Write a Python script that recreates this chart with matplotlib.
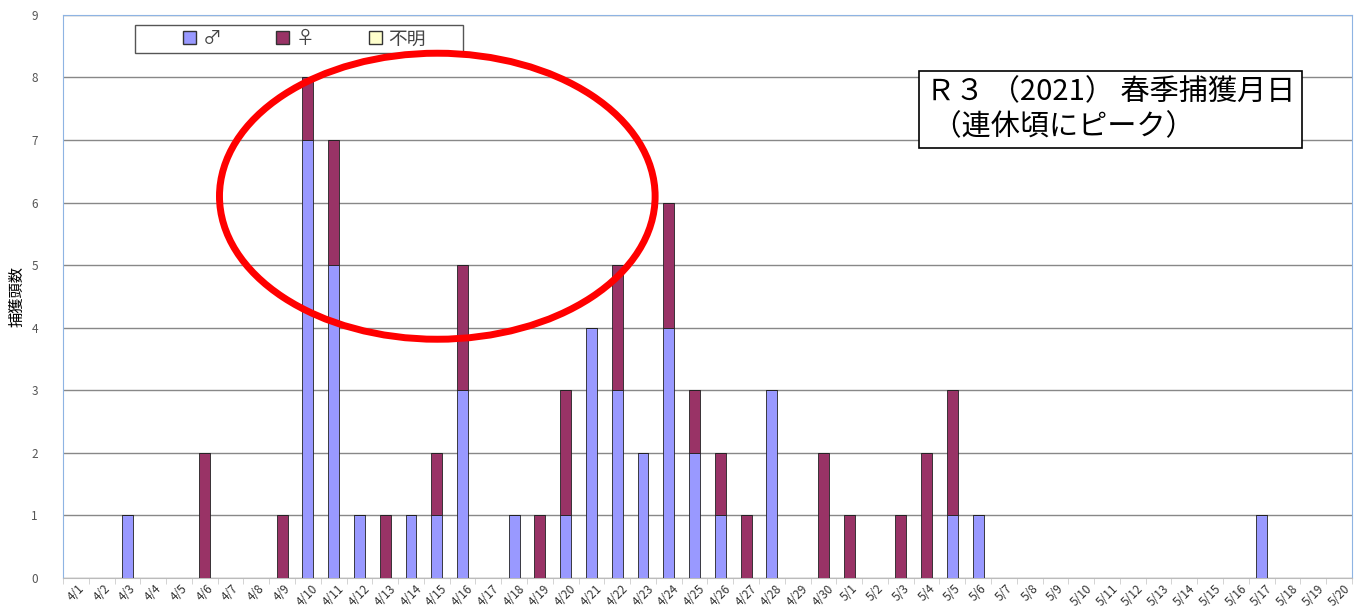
import matplotlib
matplotlib.use("Agg")
import matplotlib.pyplot as plt
from matplotlib.patches import Ellipse, Patch, Rectangle
import numpy as np

plt.rcParams['font.family'] = ['Noto Sans CJK JP', 'DejaVu Sans']

dates = [f"4/{d}" for d in range(1, 31)] + [f"5/{d}" for d in range(1, 21)]

male_counts = {"4/3": 1, "4/10": 7, "4/11": 5, "4/12": 1, "4/14": 1, "4/15": 1,
               "4/16": 3, "4/18": 1, "4/20": 1, "4/21": 4, "4/22": 3, "4/23": 2,
               "4/24": 4, "4/25": 2, "4/26": 1, "4/28": 3, "5/5": 1, "5/6": 1,
               "5/17": 1}
female_counts = {"4/6": 2, "4/9": 1, "4/10": 1, "4/11": 2, "4/13": 1, "4/15": 1,
                 "4/16": 2, "4/19": 1, "4/20": 2, "4/22": 2, "4/24": 2, "4/25": 1,
                 "4/26": 1, "4/27": 1, "4/30": 2, "5/1": 1, "5/3": 1, "5/4": 2,
                 "5/5": 2}
unknown_counts = {}

male = np.array([male_counts.get(d, 0) for d in dates])
female = np.array([female_counts.get(d, 0) for d in dates])
unknown = np.array([unknown_counts.get(d, 0) for d in dates])

fig = plt.figure(figsize=(13.58, 6.12), dpi=100)
ax = fig.add_axes([0.0464, 0.0556, 0.9491, 0.92])

x = np.arange(len(dates))
w = 0.42
c_m, c_f, c_u = "#9999FF", "#993366", "#FFFFCC"
ax.bar(x, male, w, color=c_m, edgecolor="#222222", linewidth=0.6, zorder=3)
ax.bar(x, female, w, bottom=male, color=c_f, edgecolor="#222222", linewidth=0.6, zorder=3)
ax.bar(x, unknown, w, bottom=male + female, color=c_u, edgecolor="#222222", linewidth=0.6, zorder=3)

ax.set_xlim(-0.5, len(dates) - 0.5)
ax.set_ylim(0, 9)
ax.set_yticks(range(0, 10))
ax.yaxis.grid(True, color="#888888", linewidth=1.0, zorder=0)
ax.set_axisbelow(True)
ax.set_xticks(x)
ax.set_xticklabels(dates, rotation=45, ha="center", fontsize=8.5, color="#333333")
ax.set_xticks(np.arange(-0.5, len(dates), 1), minor=True)
ax.tick_params(axis="x", which="major", length=0, pad=3)
ax.tick_params(axis="x", which="minor", length=4, color="#cccccc")
ax.tick_params(axis="y", length=0, labelsize=8.5, labelcolor="#555555", pad=18)
for s in ["left", "top", "right"]:
    ax.spines[s].set_color("#8EB4E3")
ax.spines["bottom"].set_color("#bbbbbb")
ax.set_ylabel("捕獲頭数", fontsize=11, labelpad=4)

# legend frame
ax.add_patch(Rectangle((0.0559, 0.933), 0.2545, 0.049, transform=ax.transAxes,
                       facecolor="white", edgecolor="#555555", linewidth=1.0, zorder=4))
handles = [Patch(facecolor=c_m, edgecolor="#333333", label="♂"),
           Patch(facecolor=c_f, edgecolor="#333333", label="♀"),
           Patch(facecolor=c_u, edgecolor="#333333", label="不明")]
leg = ax.legend(handles=handles, ncol=3, loc="center left", bbox_to_anchor=(0.086, 0.9575),
                fontsize=13.5, frameon=False,
                handlelength=0.7, handleheight=0.7, columnspacing=2.9,
                borderpad=0.0, handletextpad=0.35)
leg.set_zorder(5)
for t in leg.get_texts():
    t.set_color("#444444")

ell = Ellipse((0.2904, 0.678), 0.338, 0.508, transform=ax.transAxes,
              fill=False, edgecolor="#FF0000", linewidth=5, zorder=6)
ax.add_patch(ell)

ax.text(0.6695, 0.889, "Ｒ３ （2021） 春季捕獲月日\n （連休頃にピーク）",
        transform=ax.transAxes, fontsize=21, va="top", ha="left", linespacing=1.2,
        bbox=dict(boxstyle="square,pad=0.22", facecolor="white", edgecolor="black",
                  linewidth=1.2), zorder=7)

fig.savefig("out.png", dpi=100)
